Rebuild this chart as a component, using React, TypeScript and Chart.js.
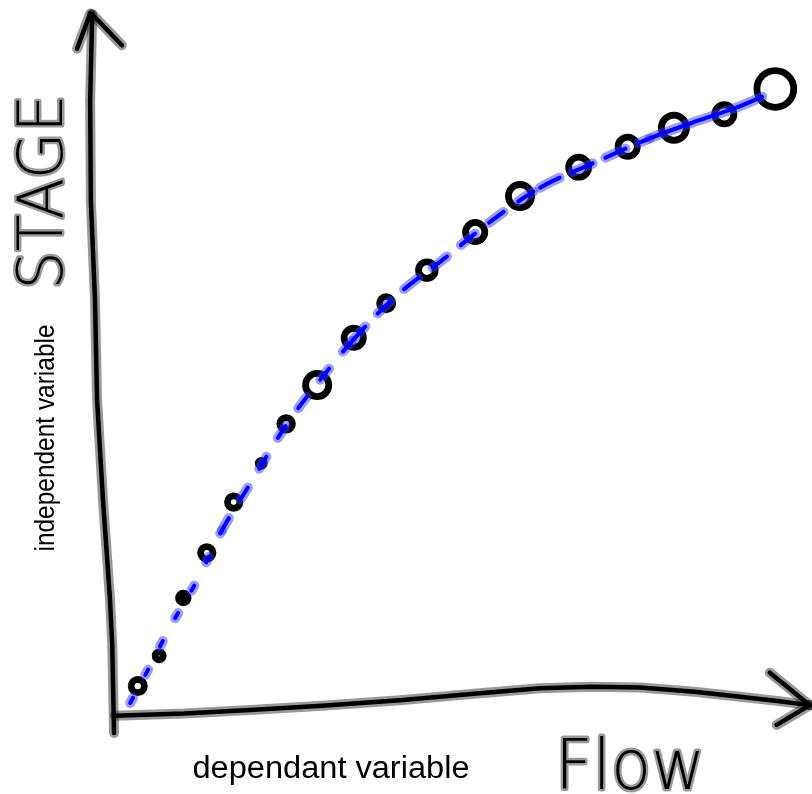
import { useEffect, useRef } from 'react';
import { Chart, registerables } from 'chart.js';

Chart.register(...registerables);

// ---- data (value units: x 0..10, y 0..10) ----
const markerX = [0.33, 0.64, 0.99, 1.33, 1.72, 2.12, 2.48, 2.93, 3.46, 3.93, 4.52, 5.22, 5.87, 6.72, 7.43, 8.1, 8.83, 9.57];
const markerY = [0.41, 0.84, 1.66, 2.3, 3.02, 3.57, 4.13, 4.68, 5.35, 5.84, 6.31, 6.85, 7.36, 7.77, 8.06, 8.33, 8.52, 8.88];
const markerSize = [6.6, 4.0, 4.8, 6.2, 6.2, 3.0, 6.3, 11.6, 9.6, 6.6, 8.3, 9.6, 11.6, 10.0, 9.6, 12.6, 9.6, 18.4];
const markerFilled = [false, false, true, false, false, true, false, false, false, false, false, false, false, false, false, false, false, false];

const lineX = [0.22, 0.51, 0.8, 1.19, 1.55, 1.96, 2.48, 2.97, 3.45, 4.07, 4.78, 5.43, 6.16, 6.96, 7.75, 8.48, 8.99, 9.38];
const lineY = [0.17, 0.7, 1.25, 1.91, 2.62, 3.28, 4.11, 4.75, 5.32, 5.94, 6.48, 6.99, 7.48, 7.84, 8.18, 8.44, 8.61, 8.77];

const xAxisLabel = 'dependant variable';
const yAxisLabel = 'independent variable';
const xTitle = 'Flow';
const yTitle = 'STAGE';

// hand-drawn axis paths (value units)
const yAxisPath = [[-0.014, -0.255], [-0.04, 1.0], [-0.072, 1.63], [-0.174, 3.05], [-0.26, 4.47], [-0.29, 5.89], [-0.35, 7.3], [-0.36, 8.72], [-0.33, 9.94]];
const yArrowLeft = [[-0.55, 9.45], [-0.36, 9.95]];
const yArrowRight = [[0.1, 9.5], [-0.33, 9.94]];
const xAxisPath = [[0, -0.01], [1.0, 0.02], [1.96, 0.07], [3.0, 0.13], [4.13, 0.21], [5.2, 0.3], [6.16, 0.38], [6.9, 0.4], [7.61, 0.39], [8.4, 0.33], [9.06, 0.26], [9.6, 0.2], [10.07, 0.14]];
const xArrowUp = [[9.49, 0.6], [10.07, 0.14]];
const xArrowDown = [[9.59, -0.14], [10.07, 0.14]];

function segDash(i: number): number[] {
  if (i <= 3) return [6, 26];
  if (i <= 7) return [14, 22];
  if (i <= 11) return [18, 18];
  if (i <= 13) return [22, 14];
  return [];
}

const handAxes = {
  id: 'handAxes',
  afterDraw(chart: any) {
    const ctx = chart.ctx as CanvasRenderingContext2D;
    const xs = chart.scales.x;
    const ys = chart.scales.y;
    const path = (pts: number[][]) => {
      ctx.beginPath();
      pts.forEach((p, i) => {
        const px = xs.getPixelForValue(p[0]);
        const py = ys.getPixelForValue(p[1]);
        if (i === 0) ctx.moveTo(px, py);
        else ctx.lineTo(px, py);
      });
    };
    const all = [yAxisPath, yArrowLeft, yArrowRight, xAxisPath, xArrowUp, xArrowDown];
    ctx.save();
    ctx.lineCap = 'round';
    ctx.lineJoin = 'round';
    ctx.strokeStyle = 'rgba(0,0,0,0.4)';
    ctx.lineWidth = 10;
    all.forEach((p) => { path(p); ctx.stroke(); });
    ctx.strokeStyle = '#000';
    ctx.lineWidth = 4.5;
    all.forEach((p) => { path(p); ctx.stroke(); });

    const drawText = (text: string, x: number, y: number, rot: number, font: string, width: number, halo: boolean) => {
      ctx.save();
      ctx.translate(x, y);
      ctx.rotate(rot);
      ctx.font = font;
      const w = ctx.measureText(text).width;
      ctx.scale(width / w, 1);
      ctx.textAlign = 'center';
      ctx.textBaseline = 'alphabetic';
      if (halo) {
        ctx.lineJoin = 'round';
        ctx.strokeStyle = 'rgba(0,0,0,0.4)';
        ctx.lineWidth = 5;
        ctx.strokeText(text, 0, 0);
      }
      ctx.fillStyle = '#000';
      ctx.fillText(text, 0, 0);
      ctx.restore();
    };
    drawText(yTitle, 62, 192, -Math.PI / 2, '200 62px "DejaVu Sans"', 195, true);
    drawText(xTitle, 630, 789, 0, '200 70px "DejaVu Sans"', 150, true);
    drawText(yAxisLabel, 54, 438, -Math.PI / 2, '27px "Liberation Sans"', 227, false);
    drawText(xAxisLabel, 331, 778, 0, '31px "Liberation Sans"', 277, false);
    ctx.restore();
  },
};

export default function App() {
  const ref = useRef<HTMLCanvasElement>(null);
  useEffect(() => {
    if (!ref.current) return;
    const linePts = lineX.map((x, i) => ({ x, y: lineY[i] }));
    const markerPts = markerX.map((x, i) => ({ x, y: markerY[i] }));
    const chart = new Chart(ref.current, {
      type: 'scatter',
      data: {
        datasets: [
          {
            data: linePts,
            showLine: true,
            borderColor: '#0000ff',
            borderWidth: 4,
            borderCapStyle: 'round',
            pointRadius: 0,
            cubicInterpolationMode: 'monotone',
            order: 0,
            segment: { borderDash: (c: any) => segDash(c.p0DataIndex) },
          } as any,
          {
            data: linePts,
            showLine: true,
            borderColor: 'rgba(60,60,255,0.5)',
            borderWidth: 10,
            borderCapStyle: 'round',
            pointRadius: 0,
            cubicInterpolationMode: 'monotone',
            order: 1,
            segment: { borderDash: (c: any) => segDash(c.p0DataIndex) },
          } as any,
          {
            data: markerPts,
            showLine: false,
            pointRadius: markerSize,
            pointBackgroundColor: markerFilled.map((f) => (f ? '#000' : '#fff')),
            pointBorderColor: '#000',
            pointBorderWidth: 6.8,
            borderWidth: 6.8,
            order: 2,
          } as any,
        ],
      },
      options: {
        responsive: false,
        animation: false,
        layout: { autoPadding: false, padding: { left: 115, right: 7, top: 10, bottom: 79 } },
        plugins: { legend: { display: false }, tooltip: { enabled: false }, title: { display: false } },
        scales: {
          x: { type: 'linear', min: 0, max: 10, display: false },
          y: { type: 'linear', min: 0, max: 10, display: false },
        },
      } as any,
      plugins: [handAxes],
    });
    return () => chart.destroy();
  }, []);
  return (
    <div style={{ position: 'fixed', left: 0, top: 0, width: 812, height: 794, background: '#fff' }}>
      <canvas ref={ref} width={812} height={794} />
    </div>
  );
}
